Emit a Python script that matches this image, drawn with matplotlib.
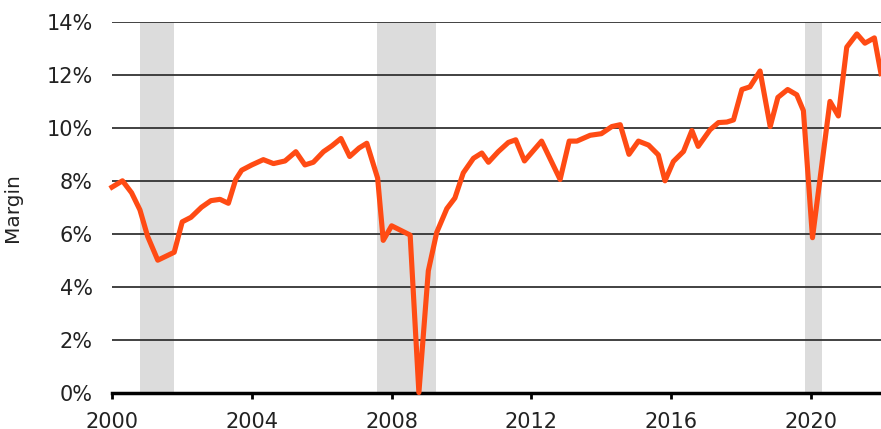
import matplotlib
matplotlib.use('Agg')
import matplotlib.pyplot as plt
from matplotlib.ticker import FuncFormatter

plt.rcParams['font.family'] = ['DejaVu Sans']

# Margin series (year, percent)
years = [2000.0, 2000.3, 2000.56, 2000.8, 2001.02, 2001.31, 2001.78, 2002.01, 2002.26, 2002.56,
         2002.83, 2003.09, 2003.33, 2003.54, 2003.71, 2004.0, 2004.33, 2004.62, 2004.95, 2005.26,
         2005.52, 2005.76, 2006.05, 2006.29, 2006.55, 2006.8, 2007.07, 2007.29, 2007.6, 2007.76,
         2008.0, 2008.53, 2008.78, 2009.05, 2009.29, 2009.58, 2009.81, 2010.05, 2010.34, 2010.58,
         2010.77, 2011.05, 2011.34, 2011.55, 2011.8, 2012.29, 2012.82, 2013.08, 2013.3, 2013.68,
         2014.0, 2014.3, 2014.54, 2014.79, 2015.06, 2015.35, 2015.63, 2015.82, 2016.06, 2016.35,
         2016.59, 2016.77, 2017.11, 2017.35, 2017.59, 2017.78, 2018.02, 2018.25, 2018.54, 2018.83,
         2019.05, 2019.33, 2019.59, 2019.78, 2020.04, 2020.54, 2020.78, 2021.02, 2021.31, 2021.54,
         2021.81, 2022.0]
margin = [7.76, 8.0, 7.55, 6.9, 5.9, 5.0, 5.3, 6.45, 6.62, 7.0,
          7.25, 7.3, 7.15, 8.05, 8.4, 8.6, 8.8, 8.65, 8.75, 9.1,
          8.6, 8.7, 9.1, 9.32, 9.6, 8.92, 9.24, 9.42, 8.1, 5.75,
          6.3, 5.95, 0.0, 4.6, 6.05, 6.95, 7.35, 8.3, 8.85, 9.05,
          8.7, 9.1, 9.45, 9.55, 8.75, 9.5, 8.05, 9.5, 9.5, 9.72,
          9.78, 10.05, 10.12, 9.0, 9.5, 9.35, 8.98, 8.0, 8.73, 9.11,
          9.9, 9.3, 9.93, 10.2, 10.22, 10.3, 11.45, 11.55, 12.15, 10.05,
          11.15, 11.45, 11.25, 10.65, 5.85, 11.0, 10.45, 13.05, 13.55, 13.2,
          13.4, 12.05]

# recession bands (start, end)
recessions = [(2000.8, 2001.77), (2007.57, 2009.26), (2019.83, 2020.3)]

yticks = [0, 2, 4, 6, 8, 10, 12, 14]
xticks = [2000, 2004, 2008, 2012, 2016, 2020]

fig = plt.figure(figsize=(8.81, 4.29), dpi=100)
ax = fig.add_axes([0.1271, 0.085, 0.8729, 0.8637])

for start, end in recessions:
    ax.axvspan(start, end, color='#dcdcdc', lw=0, zorder=0)

for y in yticks[1:]:
    ax.axhline(y, color='#333333', lw=1.3, zorder=1)

ax.plot(years, margin, color='#ff4b14', lw=3.7, solid_joinstyle='round', zorder=3, clip_on=False)

ax.set_xlim(2000, 2022.0)
ax.set_ylim(0, 14)
ax.set_xticks(xticks)
ax.set_yticks(yticks)
ax.yaxis.set_major_formatter(FuncFormatter(lambda v, p: f'{v:.0f}%'))

for s in ['top', 'right', 'left']:
    ax.spines[s].set_visible(False)
ax.spines['bottom'].set_linewidth(2.5)
ax.spines['bottom'].set_color('black')
ax.spines['bottom'].set_zorder(2)

ax.tick_params(axis='y', length=0, pad=14, labelsize=15, labelcolor='#222222')
ax.tick_params(axis='x', length=4, width=2, pad=10, labelsize=15, labelcolor='#222222')

ax.set_ylabel('Margin', fontsize=14.5, color='#222222')
ax.yaxis.set_label_coords(-0.117, 0.5)

fig.savefig('out.png', dpi=100)
